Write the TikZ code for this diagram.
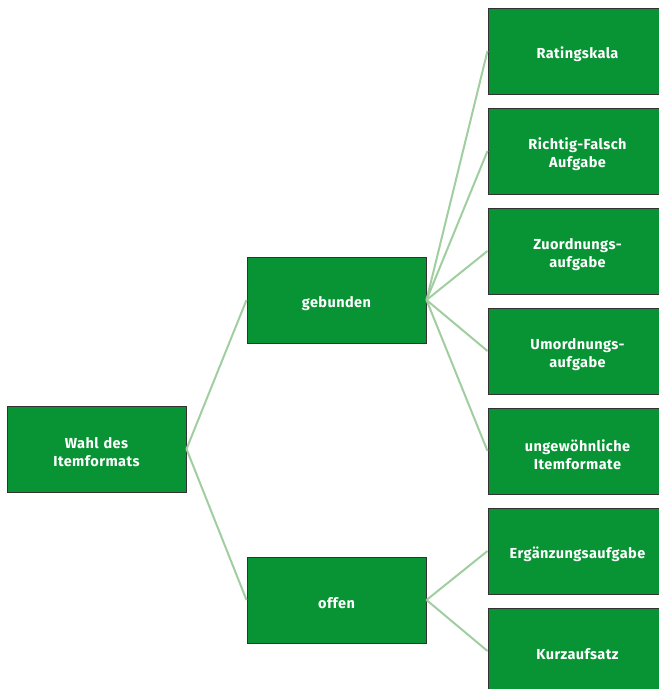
\documentclass[tikz,border=0pt]{standalone}
\usepackage{fontspec}
\setmainfont{Fira Sans}[LetterSpace=3]
\definecolor{boxgreen}{RGB}{8,148,52}
\definecolor{boxedge}{RGB}{50,50,50}
\definecolor{linkgreen}{RGB}{160,206,160}
\begin{document}
\begin{tikzpicture}[x=1pt,y=-1pt,
  item/.style={draw=boxedge,line width=1pt,fill=boxgreen,minimum width=179pt,minimum height=86pt,inner sep=0pt},
  caption/.style={inner sep=0pt,text=white,font=\fontsize{14.5}{18}\selectfont\bfseries,align=center,text width=175pt},
  link/.style={draw=linkgreen,line width=2pt}]
\useasboundingbox (0,0) rectangle (659,689);
\begin{scope}
\clip (0,0) rectangle (659,689);
% boxes
\node[item] (root) at (96.5,449) {};
\node[item] (geb) at (336.5,300) {};
\node[item] (off) at (336.5,600) {};
\node[item] (r1) at (577.5,51) {};
\node[item] (r2) at (577.5,151) {};
\node[item] (r3) at (577.5,251) {};
\node[item] (r4) at (577.5,351) {};
\node[item] (r5) at (577.5,451) {};
\node[item] (r6) at (577.5,551) {};
\node[item] (r7) at (577.5,651) {};
% captions, set slightly below the box centres
\begin{scope}[every node/.append style={yshift=-3.5pt}]
\node[caption] (troot) at (root.center) {Wahl des\\Itemformats};
\node[caption] (tgeb) at (geb.center) {gebunden};
\node[caption] (toff) at (off.center) {offen};
\node[caption] (tr1) at (r1.center) {Ratingskala};
\node[caption] (tr2) at (r2.center) {Richtig-Falsch\\Aufgabe};
\node[caption] (tr3) at (r3.center) {Zuordnungs-\\aufgabe};
\node[caption] (tr4) at (r4.center) {Umordnungs-\\aufgabe};
\node[caption] (tr5) at (r5.center) {ungewöhnliche\\Itemformate};
\node[caption] (tr6) at (r6.center) {Ergänzungsaufgabe};
\node[caption] (tr7) at (r7.center) {Kurzaufsatz};
\end{scope}
% connectors
\draw[link] (root.east) -- (geb.west);
\draw[link] (root.east) -- (off.west);
\foreach \n in {r1,r2,r3,r4,r5} \draw[link] (geb.east) -- (\n.west);
\foreach \n in {r6,r7} \draw[link] (off.east) -- (\n.west);
\end{scope}
\end{tikzpicture}
\end{document}
